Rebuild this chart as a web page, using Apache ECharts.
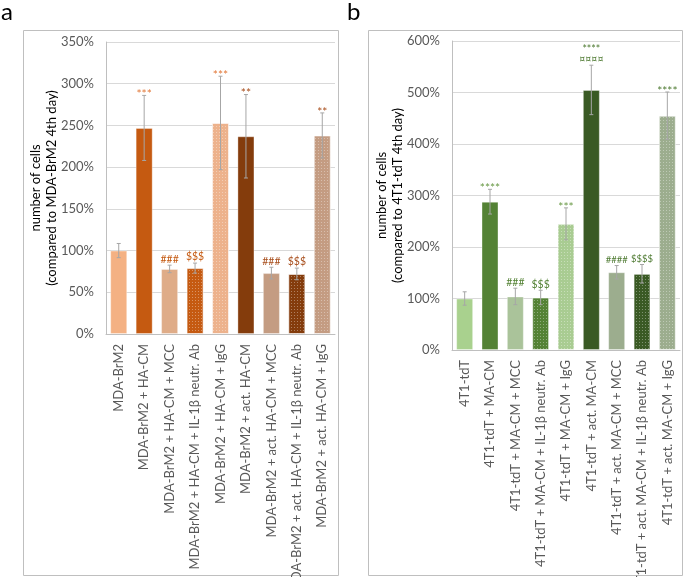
<!DOCTYPE html>
<html><head><meta charset="utf-8">
<script src="https://cdn.jsdelivr.net/npm/echarts@6/dist/echarts.min.js"></script>
<style>html,body{margin:0;padding:0;background:#fff}#c{width:685px;height:577px}</style>
</head><body><div id="c"></div>
<script>
// ---- Data ----
const catsA = ['MDA-BrM2','MDA-BrM2 + HA-CM','MDA-BrM2 + HA-CM + MCC','MDA-BrM2 + HA-CM + IL-1β neutr. Ab','MDA-BrM2 + HA-CM + IgG','MDA-BrM2 + act. HA-CM','MDA-BrM2 + act. HA-CM + MCC','MDA-BrM2 + act. HA-CM + IL-1β neutr. Ab','MDA-BrM2 + act. HA-CM + IgG'];
const valsA = [100, 247, 78, 79, 253, 237, 73, 72, 238];
const errA  = [8.5, 39, 4.5, 6, 56, 50, 7, 7, 27];
const sigA  = ['', '***', '###', '$$$', '***', '**', '###', '$$$', '**'];
const ticksA = [0, 50, 100, 150, 200, 250, 300, 350];

const catsB = ['4T1-tdT','4T1-tdT + MA-CM','4T1-tdT + MA-CM + MCC','4T1-tdT + MA-CM + IL-1β neutr. Ab','4T1-tdT + MA-CM + IgG','4T1-tdT + act. MA-CM','4T1-tdT + act. MA-CM + MCC','4T1-tdT + act. MA-CM + IL-1β neutr. Ab','4T1-tdT + act. MA-CM + IgG'];
const valsB = [100, 288, 104, 102, 245, 505, 151, 148, 455];
const errB  = [13, 24, 16, 14, 31, 48, 13, 18, 46];
const sigB  = ['', '****', '###', '$$$', '***', '****\n¤¤¤¤', '####', '$$$$', '****'];
const ticksB = [0, 100, 200, 300, 400, 500, 600];

// ---- Styles ----
const colorsA = ['#F4B183','#C55A11','#DFAC88','#C55A11','#EDB28C','#843C0C','#C49C82','#843C0C','#C49C82'];
const dottedA = [false,false,false,true,true,false,false,true,true];
const sigColA = ['', '#E2793A', '#C55A11', '#C55A11', '#E2793A', '#A84E1C', '#A84E1C', '#A84E1C', '#A84E1C'];
const colorsB = ['#A9D18E','#548235','#AAC39A','#548235','#A9CC92','#3A5A24','#9CAD8E','#3A5A24','#9CAD8E'];
const dottedB = [false,false,false,true,true,false,false,true,true];
const sigColB = ['', '#6A9A47', '#548235', '#548235', '#6A9A47', '#4E7A32', '#4E7A32', '#4E7A32', '#4E7A32'];

const FONT = 'Lato';
const GREY = '#595959';

function barData(vals, colors, dotted) {
  return vals.map((v, i) => {
    const st = {color: colors[i], borderColor: 'rgba(255,255,255,0.35)', borderWidth: 1};
    if (dotted[i]) {
      st.decal = {symbol: 'rect', symbolSize: 1, dashArrayX: [1, 2], dashArrayY: [1, 2], color: 'rgba(255,255,255,0.35)', rotation: 0};
    }
    return {value: v, itemStyle: st};
  });
}

function errRenderer(sig, sigCol) {
  return function (params, api) {
    const x = api.value(0), v = api.value(1), e = api.value(2);
    const top = api.coord([x, v + e]);
    const bot = api.coord([x, v - e]);
    const st = {stroke: '#A6A6A6', lineWidth: 1};
    const children = [
      {type: 'line', shape: {x1: top[0], y1: top[1], x2: bot[0], y2: bot[1]}, style: st},
      {type: 'line', shape: {x1: top[0] - 2, y1: top[1], x2: top[0] + 2, y2: top[1]}, style: st},
      {type: 'line', shape: {x1: bot[0] - 2, y1: bot[1], x2: bot[0] + 2, y2: bot[1]}, style: st}
    ];
    const s = sig[params.dataIndex];
    if (s) {
      const starOnly = s.indexOf('*') === 0 && s.indexOf('\n') < 0;
      const size = starOnly ? 12 : (s.length >= 4 && s.indexOf('\n') < 0 ? 9.5 : 10.5);
      children.push({type: 'text', x: top[0], y: top[1] + (starOnly ? 4 : -1),
        style: {text: s, fill: sigCol[params.dataIndex], font: size + 'px ' + FONT,
          align: 'center', verticalAlign: 'bottom', lineHeight: 10}});
    }
    return {type: 'group', children};
  };
}

function xAxis(cats, gi) {
  return {
    type: 'category', data: cats, gridIndex: gi,
    axisLine: {lineStyle: {color: '#BFBFBF'}}, axisTick: {show: false},
    axisLabel: {rotate: 90, color: GREY, fontFamily: FONT, fontSize: 13, margin: 10, interval: 0}
  };
}
function yAxis(max, interval, name, gi) {
  return {
    type: 'value', min: 0, max: max, interval: interval, gridIndex: gi,
    axisLine: {show: true, lineStyle: {color: '#BFBFBF'}}, axisTick: {show: false},
    splitLine: {lineStyle: {color: '#D9D9D9'}},
    axisLabel: {formatter: '{value}%', color: GREY, fontFamily: FONT, fontSize: 13, margin: 12},
    name: name, nameLocation: 'middle', nameRotate: 90, nameGap: 46, nameMoveOverlap: false,
    nameTextStyle: {color: '#000', fontFamily: FONT, fontSize: 13, lineHeight: 16}
  };
}

const chart = echarts.init(document.getElementById('c'), null, {renderer: 'canvas'});
chart.setOption({
  animation: false,
  backgroundColor: '#fff',
  grid: [
    {left: 106, right: 350, top: 42, bottom: 243, containLabel: false, outerBoundsMode: 'none'},
    {left: 452, right: 5, top: 41, bottom: 227, containLabel: false, outerBoundsMode: 'none'}
  ],
  xAxis: [xAxis(catsA, 0), xAxis(catsB, 1)],
  yAxis: [
    yAxis(ticksA[ticksA.length - 1], ticksA[1] - ticksA[0], 'number of cells\n(compared to MDA-BrM2 4th day)', 0),
    yAxis(ticksB[ticksB.length - 1], ticksB[1] - ticksB[0], 'number of cells\n(compared to 4T1-tdT 4th day)', 1)
  ],
  graphic: [
    {type: 'rect', shape: {x: 23.5, y: 30.5, width: 315, height: 545}, style: {fill: 'none', stroke: '#BFBFBF', lineWidth: 1}, z: -1},
    {type: 'rect', shape: {x: 368.5, y: 30.5, width: 314, height: 545}, style: {fill: 'none', stroke: '#BFBFBF', lineWidth: 1}, z: -1},
    {type: 'text', left: 1, top: 0, style: {text: 'a', font: '24px ' + FONT, fill: '#000'}},
    {type: 'text', left: 347, top: 0, style: {text: 'b', font: '24px ' + FONT, fill: '#000'}}
  ],
  series: [
    {type: 'bar', xAxisIndex: 0, yAxisIndex: 0, data: barData(valsA, colorsA, dottedA), barCategoryGap: '33%'},
    {type: 'custom', xAxisIndex: 0, yAxisIndex: 0, renderItem: errRenderer(sigA, sigColA),
      data: valsA.map((v, i) => [i, v, errA[i]]), z: 5},
    {type: 'bar', xAxisIndex: 1, yAxisIndex: 1, data: barData(valsB, colorsB, dottedB), barCategoryGap: '33%'},
    {type: 'custom', xAxisIndex: 1, yAxisIndex: 1, renderItem: errRenderer(sigB, sigColB),
      data: valsB.map((v, i) => [i, v, errB[i]]), z: 5}
  ]
});
</script>
</body></html>
